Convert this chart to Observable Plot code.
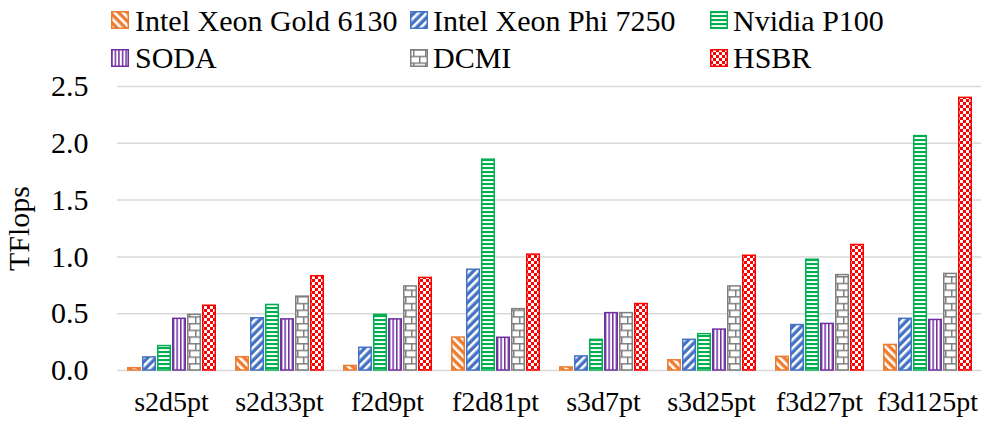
<!DOCTYPE html>
<html><head><meta charset="utf-8">
<script src="https://cdn.jsdelivr.net/npm/d3@7"></script>
<script src="https://cdn.jsdelivr.net/npm/@observablehq/plot@0.6"></script>
<style>
body{margin:0;background:#fff;font-family:"Liberation Serif","Times New Roman",serif;}
#wrap{position:relative;width:982px;height:421px;overflow:hidden;background:#fff;}
#legend{position:absolute;left:0;top:0;width:982px;height:75px;}
.sw{position:absolute;display:block;}
.lab{position:absolute;font-family:"Liberation Serif","Times New Roman",serif;font-size:30px;line-height:30px;white-space:nowrap;color:#000;}
#chart{position:absolute;left:0;top:75px;}
</style></head><body>
<svg width="0" height="0" style="position:absolute;left:0;top:0">
<defs>
<pattern id="pGold" patternUnits="userSpaceOnUse" width="6" height="6" patternTransform="rotate(-45)">
<rect width="6" height="6" fill="#ED7D31"/><rect x="0" y="0" width="2.6" height="6" fill="#fff"/></pattern>
<pattern id="pPhi" patternUnits="userSpaceOnUse" width="6" height="6" patternTransform="rotate(45)">
<rect width="6" height="6" fill="#4472C4"/><rect x="0" y="0" width="2.6" height="6" fill="#fff"/></pattern>
<pattern id="pP100" patternUnits="userSpaceOnUse" width="4" height="4">
<rect width="4" height="4" fill="#fff"/><rect x="0" y="0" width="4" height="2.1" fill="#00B050"/></pattern>
<pattern id="pSODA" patternUnits="userSpaceOnUse" width="3.6" height="4">
<rect width="3.6" height="4" fill="#fff"/><rect x="0" y="0" width="1.5" height="4" fill="#7030A0"/></pattern>
<pattern id="pDCMI" patternUnits="userSpaceOnUse" width="12" height="13.4">
<rect width="12" height="13.4" fill="#fff"/>
<rect x="0" y="0" width="12" height="1.5" fill="#7F7F7F"/>
<rect x="0" y="6.7" width="12" height="1.5" fill="#7F7F7F"/>
<rect x="3" y="0" width="1.5" height="6.7" fill="#7F7F7F"/>
<rect x="9" y="6.7" width="1.5" height="6.7" fill="#7F7F7F"/></pattern>
<pattern id="pHSBR" patternUnits="userSpaceOnUse" width="6" height="6">
<rect width="6" height="6" fill="#fff"/><rect x="0" y="0" width="3" height="3" fill="#FF0000"/><rect x="3" y="3" width="3" height="3" fill="#FF0000"/></pattern>
</defs></svg>
<div id="wrap"><div id="legend"></div><div id="chart"></div></div>
<script>
// ---- data ----
const categories = ["s2d5pt","s2d33pt","f2d9pt","f2d81pt","s3d7pt","s3d25pt","f3d27pt","f3d125pt"];
const seriesNames = ["Intel Xeon Gold 6130","Intel Xeon Phi 7250","Nvidia P100","SODA","DCMI","HSBR"];
const gold6130 = [0.02, 0.117, 0.04, 0.29, 0.027, 0.09, 0.12, 0.225];
const phi7250  = [0.115, 0.46, 0.20, 0.887, 0.124, 0.27, 0.40, 0.455];
const p100     = [0.215, 0.577, 0.49, 1.856, 0.27, 0.32, 0.975, 2.063];
const soda     = [0.455, 0.45, 0.45, 0.288, 0.505, 0.36, 0.41, 0.445];
const dcmi     = [0.49, 0.65, 0.74, 0.54, 0.505, 0.74, 0.84, 0.85];
const hsbr     = [0.57, 0.83, 0.815, 1.02, 0.585, 1.01, 1.105, 2.40];
const yTicks = [0, 0.5, 1.0, 1.5, 2.0, 2.5];
const yLabel = "TFlops";

// ---- styles ----
const colors = ["#ED7D31","#4472C4","#00B050","#7030A0","#7F7F7F","#FF0000"];
const patterns = ["pGold","pPhi","pP100","pSODA","pDCMI","pHSBR"];
const font = '"Liberation Serif","Times New Roman",serif';

const values = [gold6130, phi7250, p100, soda, dcmi, hsbr];
const rows = [];
seriesNames.forEach((s, i) => categories.forEach((c, j) => rows.push({cat: c, series: s, value: values[i][j]})));

// ---- legend ----
const legend = document.getElementById("legend");
const colLeft = [111, 410, 710], textLeft = [135, 433, 733], swTop = [11, 49], txtTop = [6, 43];
seriesNames.forEach((s, i) => {
  const r = Math.floor(i / 3), c = i % 3;
  const sw = document.createElementNS("http://www.w3.org/2000/svg", "svg");
  sw.setAttribute("width", 18); sw.setAttribute("height", 18);
  sw.setAttribute("class", "sw");
  sw.style.left = colLeft[c] + "px"; sw.style.top = swTop[r] + "px";
  sw.innerHTML = `<rect x="0.75" y="0.75" width="16.5" height="16.5" fill="url(#${patterns[i]})" stroke="${colors[i]}" stroke-width="1.5"/>`;
  legend.appendChild(sw);
  const t = document.createElement("div");
  t.className = "lab"; t.textContent = s;
  t.style.left = textLeft[c] + "px"; t.style.top = txtTop[r] + "px";
  legend.appendChild(t);
});

// ---- chart ----
const chart = Plot.plot({
  width: 982, height: 346,
  marginLeft: 117, marginRight: 1, marginTop: 11, marginBottom: 51,
  style: {fontFamily: font, fontSize: "28px", color: "#000", background: "#fff", overflow: "visible"},
  fx: {domain: categories, padding: 0, label: null, axis: null},
  x: {domain: seriesNames, paddingInner: 0.1, paddingOuter: 0.53, axis: null},
  y: {domain: [0, 2.5], label: null},
  marks: [
    Plot.ruleY(yTicks, {stroke: "#d9d9d9", strokeWidth: 1.5}),
    ...seriesNames.map((s, i) => Plot.barY(rows.filter(r => r.series === s), {
      fx: "cat", x: "series", y: "value",
      fill: `url(#${patterns[i]})`, stroke: colors[i], strokeWidth: 1.5,
      insetLeft: 0.75, insetRight: 0.75
    })),
    Plot.axisY({ticks: yTicks, tickFormat: d3.format(".1f"), tickSize: 0, tickPadding: 29, fontSize: 30,
      label: yLabel, labelAnchor: "center", labelArrow: "none", labelOffset: 110}),
    Plot.axisFx({anchor: "bottom", tickSize: 0, tickPadding: 21, fontSize: 28, label: null})
  ]
});
document.getElementById("chart").appendChild(chart);
</script>
</body></html>
